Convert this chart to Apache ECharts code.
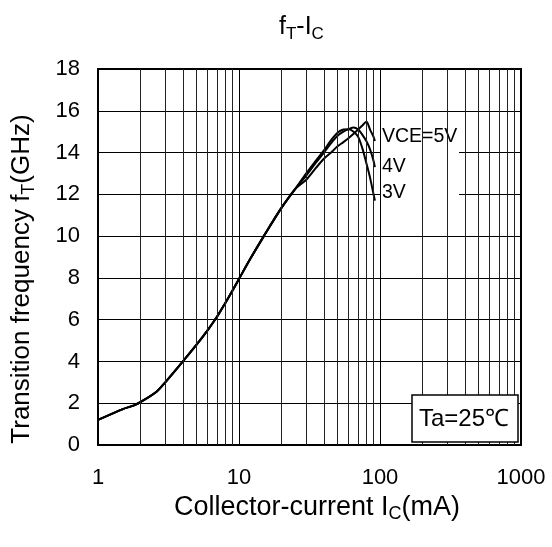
<!DOCTYPE html>
<html>
<head>
<meta charset="utf-8">
<script src="https://cdn.jsdelivr.net/npm/echarts@6/dist/echarts.min.js"></script>
<style>html,body{margin:0;padding:0;background:#fff;}#c{width:552px;height:547px;}</style>
</head>
<body>
<div id="c"></div>
<script>
// Shared low-current part of all curves
const currentCommon = [1, 1.5, 1.8, 2, 2.6, 3, 4, 5, 6, 7, 8, 9, 10, 12, 15, 20, 25];
const fTCommon = [1.2, 1.72, 1.9, 2.05, 2.55, 3.0, 4.0, 4.8, 5.5, 6.15, 6.8, 7.4, 7.95, 8.9, 10.0, 11.35, 12.25];
// High-current part, per VCE
const currentHigh = [30, 35, 40, 45, 50, 55, 60, 65, 70, 75, 80, 85, 90, 92];
const fT3V = [13.0, 13.6, 14.1, 14.6, 14.95, 15.1, 15.12, 15.0, 14.75, 14.2, 13.5, 12.8, 12.0, 11.7];
const fT4V = [12.9, 13.5, 14.0, 14.45, 14.8, 15.0, 15.12, 15.2, 15.1, 14.85, 14.55, 14.15, 13.6, 13.3];
const fT5V = [12.7, 13.25, 13.7, 14.0, 14.3, 14.5, 14.7, 14.9, 15.1, 15.3, 15.47, 15.1, 14.75, 14.55];
const seriesNames = ['VCE=5V', '4V', '3V'];
const xTickLabels = ['1', '10', '100', '1000'];
const minorGridValues = [2,3,4,5,6,7,8,9,20,30,40,50,60,70,80,90,200,300,400,500,600,700,800,900];

const FONT = 'Liberation Sans, Arial, sans-serif';

function build(high) {
  const pts = currentCommon.map((x, i) => [x, fTCommon[i]]);
  currentHigh.forEach((x, i) => pts.push([x, high[i]]));
  return pts;
}

const chart = echarts.init(document.getElementById('c'), null, {renderer: 'canvas'});

const richSub = (fs, sfs) => ({
  n: {fontSize: fs, fontFamily: FONT, fontWeight: 'normal', color: '#000', lineHeight: 32, verticalAlign: 'middle'},
  s: {fontSize: sfs, fontFamily: FONT, fontWeight: 'normal', color: '#000', lineHeight: sfs, verticalAlign: 'bottom'}
});

const lineSeries = (name, high, dy) => ({
  name: name,
  type: 'line',
  z: 3,
  data: build(high),
  showSymbol: false,
  smooth: 0.3,
  lineStyle: {color: '#000', width: 2},
  endLabel: {
    show: true,
    formatter: name,
    distance: 7,
    offset: [0, dy],
    fontFamily: FONT,
    fontSize: 19.5,
    color: '#000'
  }
});

chart.setOption({
  animation: false,
  backgroundColor: '#fff',
  title: {
    text: '{n|f}{s|T}{n|-I}{s|C}',
    left: 279,
    top: 11,
    padding: 0,
    textStyle: {fontWeight: 'normal', rich: richSub(25, 17)}
  },
  grid: {left: 98, right: 31, top: 69, bottom: 102, show: true, borderColor: '#000', borderWidth: 2},
  xAxis: {
    type: 'log',
    logBase: 10,
    min: 1,
    max: 1000,
    axisLine: {show: true, lineStyle: {color: '#000', width: 2}},
    axisTick: {show: false},
    splitLine: {show: true, lineStyle: {color: '#000', width: 1}},
    axisLabel: {
      fontFamily: FONT, fontSize: 22, color: '#000', margin: 22,
      formatter: v => xTickLabels.indexOf(String(Math.round(v))) >= 0 ? String(Math.round(v)) : ''
    },
    name: '{n|Collector-current I}{s|C}{n|(mA)}',
    nameLocation: 'middle',
    nameGap: 44,
    nameTextStyle: {padding: [0, 0, 0, 15], rich: richSub(27, 18)}
  },
  yAxis: {
    type: 'value',
    min: 0,
    max: 18,
    interval: 2,
    axisLine: {show: true, lineStyle: {color: '#000', width: 2}},
    axisTick: {show: false},
    splitLine: {show: true, lineStyle: {color: '#000', width: 1}},
    axisLabel: {fontFamily: FONT, fontSize: 22, color: '#000', margin: 18},
    name: '{n|Transition frequency f}{s|T}{n|(GHz)}',
    nameLocation: 'middle',
    nameGap: 60,
    nameTextStyle: {padding: [0, 44, 0, 0], rich: richSub(26, 18)}
  },
  graphic: [
    {
      type: 'rect', z: 1,
      shape: {x: 381, y: 115, width: 78, height: 90},
      style: {fill: '#fff'}
    },
    {
      type: 'group', z: 10,
      children: [
        {type: 'rect', z: 10, shape: {x: 412, y: 395, width: 106, height: 47},
         style: {fill: '#fff', stroke: '#000', lineWidth: 1.5}},
        {type: 'text', z: 11, x: 464, y: 419,
         style: {text: 'Ta=25℃', font: '24px ' + FONT, fill: '#000', textAlign: 'center', textVerticalAlign: 'middle'}}
      ]
    }
  ],
  series: [
    {
      type: 'line',
      z: 0,
      data: [],
      silent: true,
      markLine: {
        silent: true,
        symbol: 'none',
        animation: false,
        label: {show: false},
        lineStyle: {color: '#222', width: 1, type: 'solid'},
        data: minorGridValues.map(v => ({xAxis: v}))
      }
    },
    lineSeries(seriesNames[0], fT5V, -4),
    lineSeries(seriesNames[1], fT4V, -1),
    lineSeries(seriesNames[2], fT3V, -8)
  ]
});
</script>
</body>
</html>
